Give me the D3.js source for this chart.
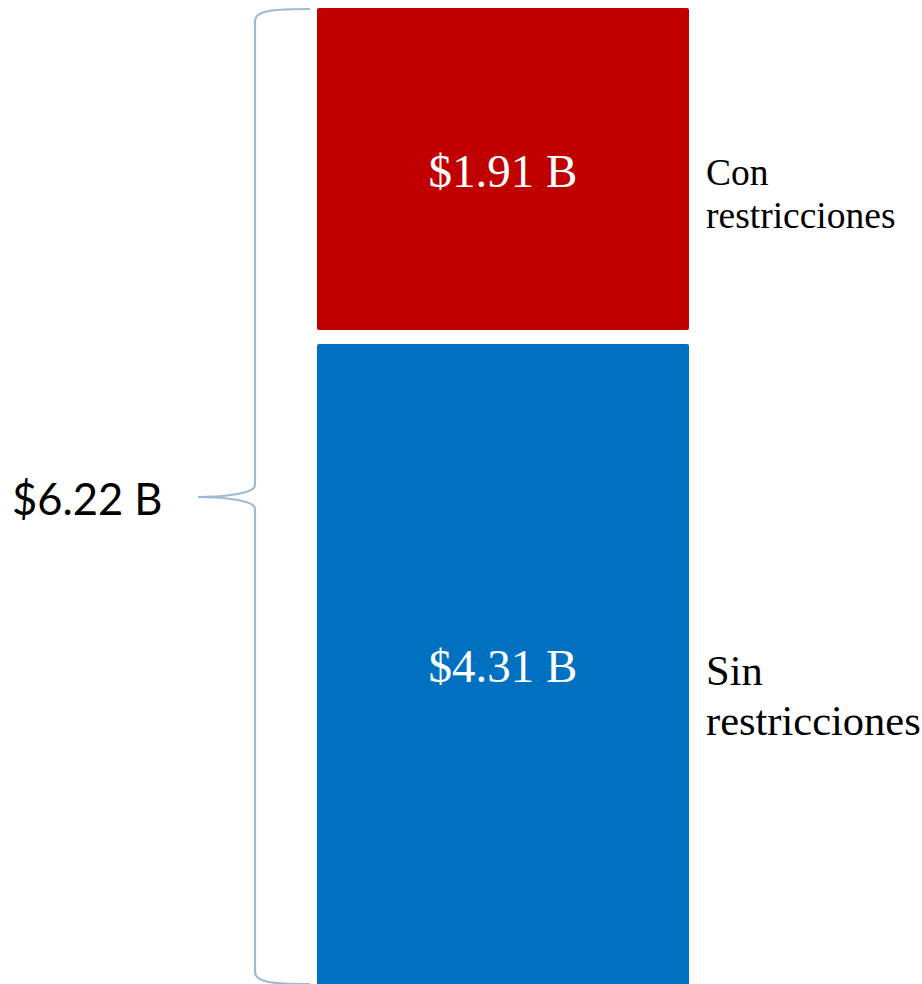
<!DOCTYPE html>
<html><head><meta charset="utf-8">
<script src="https://cdn.jsdelivr.net/npm/d3@7"></script>
<style>html,body{margin:0;padding:0;background:#fff;overflow:hidden}</style>
</head><body>
<script>
const categories = ["Con restricciones", "Sin restricciones"];
const values = [1.91, 4.31];
const valueLabels = ["$1.91 B", "$4.31 B"];
const sideLines = [["Con", "restricciones"], ["Sin", "restricciones"]];
const totalLabel = "$6.22 B";
const colors = ["#C00000", "#0070C0"];

(function () {
const W = 922, H = 984;
const svg = d3.select("body").append("svg").attr("width", W).attr("height", H);

const barTop = 8, gap = 14;
const pxPerUnit = 322 / 1.91;
const y = d3.scaleLinear().domain([0, 1]).range([0, pxPerUnit]);
const x = d3.scaleBand().domain(["bar"]).range([317, 689]).padding(0);

let cur = barTop;
const segs = values.map((v, i) => {
  const s = {i, y0: cur, h: y(v)};
  cur += y(v) + gap;
  return s;
});

svg.selectAll("rect.seg").data(segs).join("rect")
  .attr("x", x("bar")).attr("width", x.bandwidth())
  .attr("y", d => d.y0).attr("height", d => d.h)
  .attr("rx", 2)
  .attr("fill", d => colors[d.i]);

svg.selectAll("text.val").data(segs).join("text")
  .attr("x", x("bar") + x.bandwidth() / 2)
  .attr("y", d => (d.y0 + Math.min(d.y0 + d.h, H)) / 2 + 18)
  .attr("text-anchor", "middle")
  .attr("fill", "#fff")
  .attr("font-family", "Liberation Serif, Times New Roman, serif")
  .attr("font-size", 47)
  .text(d => valueLabels[d.i]);

const sideSizes = [37.5, 42.5];
const sideY = [[185, 228], [685, 735]];
segs.forEach(d => {
  const t = svg.append("text")
    .attr("font-family", "Liberation Serif, Times New Roman, serif")
    .attr("font-size", sideSizes[d.i]).attr("fill", "#000");
  sideLines[d.i].forEach((ln, k) => {
    t.append("tspan").attr("x", 706).attr("y", sideY[d.i][k]).text(ln);
  });
});

// brace
const bTop = 9, bBot = 984, bx = 255, tipX = 198, tipY = 497, endX = 310;
const path = d3.path();
path.moveTo(endX, bTop);
path.bezierCurveTo(270, bTop, bx, bTop + 2, bx, bTop + 12);
path.lineTo(bx, tipY - 12);
path.bezierCurveTo(bx, tipY - 2, 215, tipY, tipX, tipY);
path.bezierCurveTo(215, tipY, bx, tipY + 2, bx, tipY + 12);
path.lineTo(bx, bBot - 12);
path.bezierCurveTo(bx, bBot - 2, 270, bBot, endX, bBot);
svg.append("path").attr("d", path.toString())
  .attr("fill", "none").attr("stroke", "#9DBAD5").attr("stroke-width", 2.2);

svg.append("text").attr("x", 12).attr("y", 515)
  .attr("font-family", "Lato, Open Sans, sans-serif")
  .attr("font-size", 43.5).attr("fill", "#000")
  .text(totalLabel);
})();
</script>
</body></html>
